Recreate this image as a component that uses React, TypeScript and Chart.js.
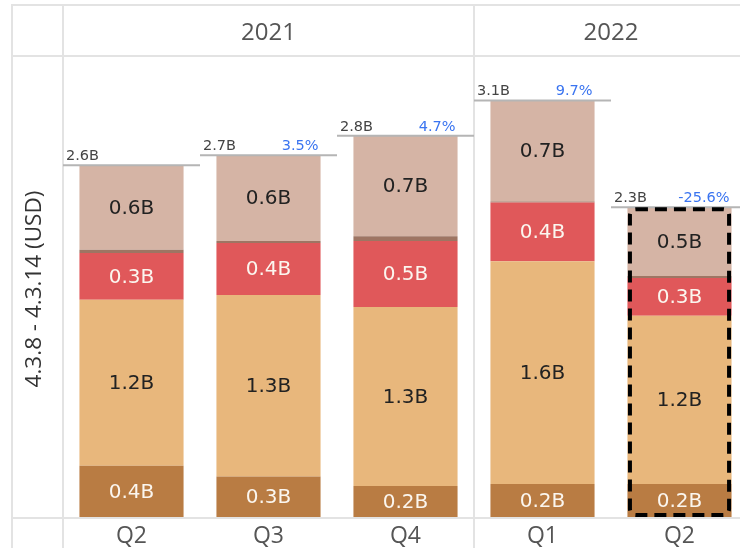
import React, { useEffect, useRef } from "react";
import { Chart, registerables } from "chart.js";
Chart.register(...registerables);

const quarters = ["Q2", "Q3", "Q4", "Q1", "Q2"];
const years = ["2021", "2021", "2021", "2022", "2022"];
const baseSeg = [0.38, 0.3, 0.23, 0.245, 0.245];
const mainSeg = [1.23, 1.345, 1.325, 1.649, 1.245];
const redSeg = [0.345, 0.385, 0.49, 0.435, 0.28];
const stripeSeg = [0.025, 0.015, 0.035, 0.008, 0.015];
const topSeg = [0.625, 0.635, 0.745, 0.749, 0.51];
const growthPct: (number | null)[] = [null, 3.5, 4.7, 9.7, -25.6];
const highlighted = [false, false, false, false, true];
const yTitle = "4.3.8 - 4.3.14 (USD)";

const CANVAS_W = 760;
const CANVAS_H = 548;

const fmtB = (v: number) => v.toFixed(1) + "B";

const decor = {
  id: "decor",
  beforeDatasetsDraw(chart: any) {
    const ctx = chart.ctx;
    const xs = chart.scales.x;
    const n = quarters.length;
    const cw = (xs.right - xs.left) / n;
    ctx.save();
    ctx.strokeStyle = "#e3e3e3";
    ctx.lineWidth = 2;
    const hl = (y: number) => {
      ctx.beginPath();
      ctx.moveTo(11, y);
      ctx.lineTo(CANVAS_W, y);
      ctx.stroke();
    };
    const vl = (x: number) => {
      ctx.beginPath();
      ctx.moveTo(x, 4);
      ctx.lineTo(x, CANVAS_H);
      ctx.stroke();
    };
    hl(5);
    hl(56);
    vl(12);
    vl(xs.left);
    let start = 0;
    for (let i = 1; i <= n; i++) {
      if (i === n || years[i] !== years[start]) {
        const x0 = xs.getPixelForValue(start) - cw / 2;
        const x1 = xs.getPixelForValue(i - 1) + cw / 2;
        if (i < n) vl(x1);
        ctx.fillStyle = "#555";
        ctx.font = '24px "Open Sans"';
        ctx.textAlign = "center";
        ctx.textBaseline = "middle";
        ctx.fillText(years[start], (x0 + x1) / 2, 33);
        start = i;
      }
    }
    ctx.save();
    ctx.translate(35, 289);
    ctx.rotate(-Math.PI / 2);
    ctx.fillStyle = "#333";
    ctx.font = '22.5px "Open Sans"';
    ctx.textAlign = "center";
    ctx.textBaseline = "middle";
    ctx.fillText(yTitle, 0, 0);
    ctx.restore();
    ctx.restore();
  },
  afterDatasetsDraw(chart: any) {
    const ctx = chart.ctx;
    const xs = chart.scales.x;
    const ys = chart.scales.y;
    const n = quarters.length;
    const cw = (xs.right - xs.left) / n;
    ctx.save();
    ctx.strokeStyle = "#e3e3e3";
    ctx.lineWidth = 2;
    ctx.beginPath();
    ctx.moveTo(11, ys.bottom + 1);
    ctx.lineTo(CANVAS_W, ys.bottom + 1);
    ctx.stroke();

    const labelColors = ["#fbf6ef", "#222222", "#fbf6ef", null, "#222222"];
    chart.data.datasets.forEach((ds: any, di: number) => {
      if (!labelColors[di]) return;
      const meta = chart.getDatasetMeta(di);
      meta.data.forEach((el: any, i: number) => {
        const p = el.getProps(["x", "y", "base"], true);
        ctx.fillStyle = labelColors[di];
        ctx.font = '20px "DejaVu Sans"';
        ctx.textAlign = "center";
        ctx.textBaseline = "middle";
        ctx.fillText(fmtB(ds.data[i]), p.x, (p.y + p.base) / 2 + 1);
      });
    });

    for (let i = 0; i < n; i++) {
      const total = baseSeg[i] + mainSeg[i] + redSeg[i] + stripeSeg[i] + topSeg[i];
      const y = ys.getPixelForValue(total);
      const cx = xs.getPixelForValue(i);
      const x0 = cx - cw / 2;
      const x1 = cx + cw / 2;
      ctx.strokeStyle = "#b5b5b5";
      ctx.lineWidth = 2;
      ctx.beginPath();
      ctx.moveTo(x0, y);
      ctx.lineTo(x1, y);
      ctx.stroke();
      ctx.font = '14.5px "DejaVu Sans"';
      ctx.textBaseline = "alphabetic";
      ctx.textAlign = "left";
      ctx.fillStyle = "#444";
      ctx.fillText(fmtB(total), x0 + 3, y - 5);
      const g = growthPct[i];
      if (g !== null) {
        const el = chart.getDatasetMeta(0).data[i];
        ctx.textAlign = "right";
        ctx.fillStyle = "#3a74f0";
        ctx.fillText(g.toFixed(1) + "%", cx + el.width / 2 - 2, y - 5);
      }
      ctx.fillStyle = "#555";
      ctx.font = '23px "Open Sans"';
      ctx.textAlign = "center";
      ctx.textBaseline = "middle";
      ctx.fillText(quarters[i], cx, 536);
    }

    for (let i = 0; i < n; i++) {
      if (!highlighted[i]) continue;
      const bottomEl = chart.getDatasetMeta(0).data[i];
      const topEl = chart.getDatasetMeta(4).data[i];
      const w = bottomEl.width;
      const x0 = bottomEl.x - w / 2 + 2.5;
      const x1 = bottomEl.x + w / 2 - 2.5;
      const y0 = topEl.y + 2;
      const y1 = bottomEl.base - 2;
      ctx.strokeStyle = "#000";
      ctx.lineWidth = 4;
      ctx.setLineDash([12, 7]);
      ctx.beginPath();
      if (ctx.roundRect) ctx.roundRect(x0, y0, x1 - x0, y1 - y0, 6);
      else ctx.rect(x0, y0, x1 - x0, y1 - y0);
      ctx.stroke();
      ctx.setLineDash([]);
    }
    ctx.restore();
  },
};

export default function App() {
  const ref = useRef<HTMLCanvasElement>(null);
  useEffect(() => {
    document.body.style.margin = "0";
    const chartTop = 57;
    const chartBottom = 517;
    const pxPerB = 135;
    const chart = new Chart(ref.current!, {
      type: "bar",
      data: {
        labels: quarters,
        datasets: [
          { data: baseSeg, backgroundColor: "#b97c43" },
          { data: mainSeg, backgroundColor: "#e8b77c" },
          { data: redSeg, backgroundColor: "#e0585a" },
          { data: stripeSeg, backgroundColor: "#9e7563" },
          { data: topSeg, backgroundColor: "#d5b4a5" },
        ],
      },
      options: {
        responsive: false,
        animation: false,
        devicePixelRatio: 1,
        layout: {
          padding: { left: 63, right: CANVAS_W - 748, top: chartTop, bottom: CANVAS_H - chartBottom },
        },
        datasets: { bar: { barPercentage: 0.76, categoryPercentage: 1, borderWidth: 0 } },
        plugins: { legend: { display: false }, tooltip: { enabled: false } },
        scales: {
          x: { stacked: true, display: false },
          y: { stacked: true, display: false, min: 0, max: (chartBottom - chartTop) / pxPerB },
        },
      },
      plugins: [decor],
    } as any);
    return () => chart.destroy();
  }, []);
  return (
    <div style={{ position: "fixed", left: 0, top: 0, width: 740, height: 548, overflow: "hidden", background: "#fff" }}>
      <canvas ref={ref} width={CANVAS_W} height={CANVAS_H} style={{ display: "block", width: CANVAS_W, height: CANVAS_H }} />
    </div>
  );
}
